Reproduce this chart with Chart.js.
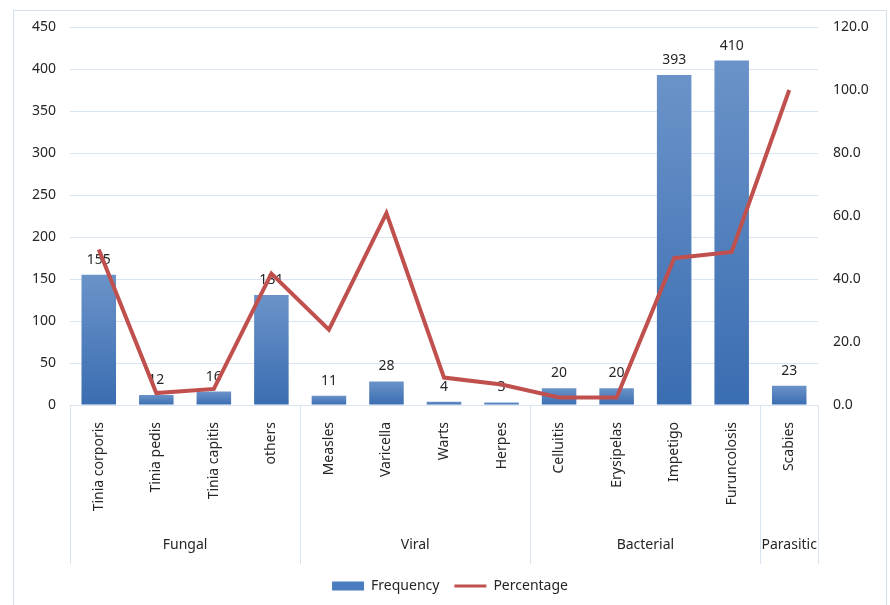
<!DOCTYPE html>
<html>
<head>
<meta charset="utf-8">
<script src="https://cdn.jsdelivr.net/npm/chart.js@4.4.0/dist/chart.umd.min.js"></script>
<style>
html, body { margin: 0; padding: 0; background: #fff; overflow: hidden; }
#wrap { position: absolute; left: 13px; top: 10px; width: 874px; height: 610px; border: 1px solid #d5e0ee; box-sizing: border-box; }
canvas { display: block; }
</style>
</head>
<body>
<div id="wrap"><canvas id="myChart"></canvas></div>
<script>
const categories = ['Tinia corporis', 'Tinia pedis', 'Tinia capitis', 'others', 'Measles', 'Varicella', 'Warts', 'Herpes', 'Celluitis', 'Erysipelas', 'Impetigo', 'Furuncolosis', 'Scabies'];
const groups = ['Fungal', 'Viral', 'Bacterial', 'Parasitic'];
const groupSizes = [4, 4, 4, 1];
const frequency = [155, 12, 16, 131, 11, 28, 4, 3, 20, 20, 393, 410, 23];
const percentage = [49.4, 3.8, 5.1, 41.7, 23.9, 60.9, 8.7, 6.5, 2.4, 2.4, 46.6, 48.6, 100.0];

const gridColor = '#d9e3f1';
const textColor = '#262626';
const font = { family: '"Noto Sans", sans-serif', size: 14 };

// gradient per bar, light at top, darker at base
function barFill(ctx) {
    const chart = ctx.chart;
    const y = chart.scales.y;
    if (!y || ctx.type !== 'data') return '#4a7cc0';
    const top = y.getPixelForValue(ctx.raw);
    const base = y.getPixelForValue(0);
    if (!isFinite(top) || !isFinite(base) || base - top < 1) return '#4a7cc0';
    const g = chart.ctx.createLinearGradient(0, top, 0, base);
    g.addColorStop(0, '#6b93c9');
    g.addColorStop(1, '#3a6db1');
    return g;
}

const valueLabels = {
    id: 'valueLabels',
    afterDatasetDraw(chart, args) {
        if (args.index !== 0) return;
        const c = chart.ctx;
        c.save();
        c.font = '14px "Noto Sans"';
        c.fillStyle = textColor;
        c.textAlign = 'center';
        c.textBaseline = 'bottom';
        args.meta.data.forEach((bar, i) => c.fillText(frequency[i], bar.x, bar.y - 8));
        c.restore();
    }
};

const groupAxis = {
    id: 'groupAxis',
    afterDraw(chart) {
        const x = chart.scales.x;
        const c = chart.ctx;
        const edges = [x.getPixelForValue(-0.5)];
        let n = 0;
        groupSizes.forEach(s => { n += s; edges.push(x.getPixelForValue(n - 0.5)); });
        c.save();
        c.strokeStyle = gridColor;
        c.lineWidth = 1;
        edges.forEach(px => {
            c.beginPath();
            c.moveTo(Math.round(px) + 0.5, x.top);
            c.lineTo(Math.round(px) + 0.5, x.bottom);
            c.stroke();
        });
        c.font = '14px "Noto Sans"';
        c.fillStyle = textColor;
        c.textAlign = 'center';
        c.textBaseline = 'middle';
        groups.forEach((g, i) => c.fillText(g, (edges[i] + edges[i + 1]) / 2, x.bottom - 19));
        c.restore();
    }
};

const ctx = document.getElementById('myChart').getContext('2d');
const myChart = new Chart(ctx, {
    data: {
        labels: categories,
        datasets: [{
            type: 'bar',
            label: 'Frequency',
            data: frequency,
            backgroundColor: barFill,
            barPercentage: 0.6,
            categoryPercentage: 1,
            yAxisID: 'y',
            order: 1
        }, {
            type: 'line',
            label: 'Percentage',
            data: percentage,
            borderColor: '#c0504d',
            borderWidth: 4,
            pointRadius: 0,
            fill: false,
            tension: 0,
            yAxisID: 'y1',
            order: 0
        }]
    },
    plugins: [valueLabels, groupAxis],
    options: {
        responsive: true,
        maintainAspectRatio: false,
        animation: false,
        layout: { padding: { top: 16, bottom: 16, left: 0, right: 0 } },
        plugins: {
            tooltip: { enabled: false },
            legend: {
                position: 'bottom',
                labels: {
                    usePointStyle: true,
                    pointStyleWidth: 32,
                    boxHeight: 9,
                    padding: 15,
                    color: textColor,
                    font: font,
                    generateLabels: chart => chart.data.datasets.map((ds, i) => ({
                        text: ds.label,
                        datasetIndex: i,
                        fillStyle: ds.type === 'line' ? ds.borderColor : '#4a7cc0',
                        strokeStyle: ds.type === 'line' ? ds.borderColor : '#4a7cc0',
                        lineWidth: ds.type === 'line' ? 3 : 0,
                        pointStyle: ds.type === 'line' ? 'line' : 'rect',
                        fontColor: textColor,
                        hidden: false
                    }))
                }
            }
        },
        scales: {
            x: {
                grid: { display: false },
                border: { display: true, color: gridColor },
                ticks: { color: textColor, font: font, minRotation: 90, maxRotation: 90, padding: 9, autoSkip: false },
                afterFit: s => { s.height = 159; }
            },
            y: {
                position: 'left',
                min: 0,
                max: 450,
                ticks: { stepSize: 50, color: textColor, font: font, padding: 14 },
                grid: { color: gridColor, drawTicks: false },
                border: { display: false },
                afterFit: s => { s.width = 56; s.paddingTop = 0; s.paddingBottom = 0; }
            },
            y1: {
                position: 'right',
                min: 0,
                max: 120,
                ticks: { stepSize: 20, color: textColor, font: font, padding: 15, callback: v => v.toFixed(1) },
                grid: { display: false, drawTicks: false },
                border: { display: false },
                afterFit: s => { s.width = 68; s.paddingTop = 0; s.paddingBottom = 0; }
            }
        }
    }
});
</script>
</body>
</html>
